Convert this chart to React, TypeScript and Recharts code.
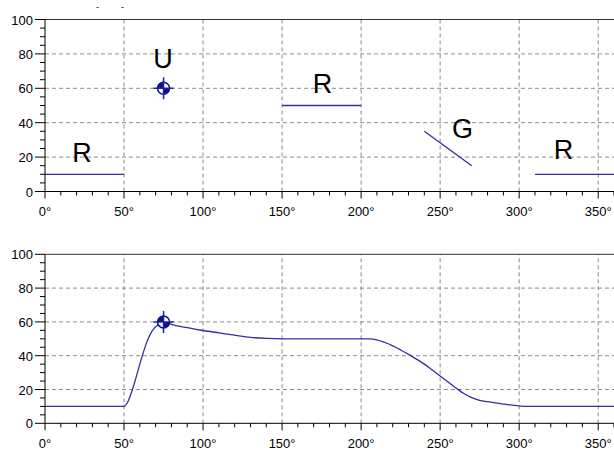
import React from "react";
import { ComposedChart, Line, Scatter, XAxis, YAxis, ReferenceLine } from "recharts";

// axis ticks
const xTicks = [0, 10, 20, 30, 40, 50, 60, 70, 80, 90, 100, 110, 120, 130, 140, 150, 160, 170, 180, 190, 200, 210, 220, 230, 240, 250, 260, 270, 280, 290, 300, 310, 320, 330, 340, 350, 360];
const xMajor = [0, 50, 100, 150, 200, 250, 300, 350];
const yTicks = [0, 5, 10, 15, 20, 25, 30, 35, 40, 45, 50, 55, 60, 65, 70, 75, 80, 85, 90, 95, 100];
const yMajor = [0, 20, 40, 60, 80, 100];
const gridX = [50, 100, 150, 200, 250, 300, 350];
const gridY = [20, 40, 60, 80];

// top chart: constraint segments
const segR1 = [{ x: 0, y: 10 }, { x: 50, y: 10 }];
const segR2 = [{ x: 150, y: 50 }, { x: 200, y: 50 }];
const segG = [{ x: 240, y: 35 }, { x: 270, y: 15 }];
const segR3 = [{ x: 310, y: 10 }, { x: 360, y: 10 }];
const topPoints = [{ x: 75, y: 60 }];
const topLabels = [
  { x: 23.4, y: 17, text: "R" },
  { x: 74.7, y: 71.6, text: "U" },
  { x: 175.6, y: 57, text: "R" },
  { x: 264.2, y: 31, text: "G" },
  { x: 328, y: 18.7, text: "R" },
];

// bottom chart: resulting curve
const curveX = [0, 50, 52, 56, 60, 64, 68, 72, 75, 81, 90, 98, 110, 119, 130, 140, 150, 205, 210, 215, 220, 225, 230, 235, 240, 245, 250, 255, 260, 265, 270, 275, 280, 290, 300, 305, 360];
const curveY = [10, 10, 12, 22, 35, 47, 55, 58.5, 60, 58.2, 56.6, 55.2, 53.5, 52.3, 50.8, 50.2, 50, 50, 49.4, 47.8, 45.8, 43.4, 40.8, 38, 35, 31.5, 28, 24.4, 20.9, 17.6, 15.2, 13.6, 12.8, 11.4, 10.3, 10, 10];
const bottomPoints = [{ x: 75, y: 60 }];

const curve = curveX.map((x, i) => ({ x, y: curveY[i] }));

const LINE = "#3030a4";
const FONT = "'Liberation Sans', Arial, sans-serif";

const XTick = (props: any) => {
  const { x, y, payload } = props;
  const major = xMajor.includes(payload.value);
  return (
    <g>
      <line x1={x} y1={y} x2={x} y2={y + (major ? 7 : 4)} stroke="#000" />
      {major && (
        <text x={x} y={y + 24.5} textAnchor="middle" fontSize={13} fontFamily={FONT} fill="#000">
          {payload.value}°
        </text>
      )}
    </g>
  );
};

const YTick = (props: any) => {
  const { x, y, payload } = props;
  const major = yMajor.includes(payload.value);
  return (
    <g>
      <line x1={x - (major ? 10 : 5)} y1={y} x2={x} y2={y} stroke="#000" />
      {major && (
        <text x={x - 12} y={y + 5} textAnchor="end" fontSize={13} fontFamily={FONT} fill="#000">
          {payload.value}
        </text>
      )}
    </g>
  );
};

const Marker = (props: any) => {
  const { cx, cy } = props;
  const r = 6;
  return (
    <g>
      <circle cx={cx} cy={cy} r={r} fill="#fff" stroke="#10108a" strokeWidth={1.5} />
      <path d={`M${cx},${cy} L${cx - r},${cy} A${r},${r} 0 0 1 ${cx},${cy - r} Z`} fill="#10108a" />
      <path d={`M${cx},${cy} L${cx + r},${cy} A${r},${r} 0 0 1 ${cx},${cy + r} Z`} fill="#10108a" />
      <line x1={cx - 10} y1={cy} x2={cx + 10} y2={cy} stroke="#2020a0" strokeWidth={1.5} />
      <line x1={cx} y1={cy - 11} x2={cx} y2={cy + 11} stroke="#2020a0" strokeWidth={1.5} />
    </g>
  );
};

const LabelShape = (props: any) => {
  const { cx, cy, payload } = props;
  return (
    <text x={cx} y={cy} textAnchor="middle" fontSize={27} fontFamily={FONT} fill="#000">
      {payload.text}
    </text>
  );
};

function Axes({ xHeight }: { xHeight: number }) {
  return null;
}

function Frame(children: React.ReactNode, margin: any, xHeight: number) {
  return (
    <ComposedChart width={614} height={225} margin={margin}>
      <XAxis
        type="number"
        dataKey="x"
        domain={[0, 360]}
        ticks={xTicks}
        interval={0}
        allowDataOverflow
        height={xHeight}
        tickSize={0}
        tickMargin={0}
        tickLine={false}
        tick={<XTick />}
        stroke="#000"
      />
      <YAxis
        type="number"
        dataKey="y"
        domain={[0, 100]}
        ticks={yTicks}
        interval={0}
        allowDataOverflow
        width={45}
        tickSize={0}
        tickMargin={0}
        tickLine={false}
        tick={<YTick />}
        stroke="#000"
      />
      {gridX.map((v) => (
        <ReferenceLine key={"gx" + v} x={v} stroke="#8a8a8a" strokeDasharray="4 3" />
      ))}
      {gridY.map((v) => (
        <ReferenceLine key={"gy" + v} y={v} stroke="#8a8a8a" strokeDasharray="4 3" />
      ))}
      <ReferenceLine y={100} stroke="#333" />
      {children}
    </ComposedChart>
  );
}

export default function App() {
  const segs = [segR1, segR2, segG, segR3];
  return (
    <div style={{ position: "absolute", left: 0, top: 0, width: 614, height: 450, background: "#fff" }}>
      <span style={{ position: "absolute", left: 96, top: 3, fontSize: 9, fontFamily: FONT, lineHeight: "9px" }}>-</span>
      <span style={{ position: "absolute", left: 121, top: 3, fontSize: 9, fontFamily: FONT, lineHeight: "9px" }}>-</span>
      <div style={{ position: "absolute", left: 0, top: 0 }}>
        {Frame(
          [
            ...segs.map((d, i) => (
              <Line key={"s" + i} data={d} dataKey="y" type="linear" stroke={LINE} strokeWidth={1.3} dot={false} isAnimationActive={false} />
            )),
            <Scatter key="pt" data={topPoints} dataKey="y" shape={<Marker />} isAnimationActive={false} />,
            <Scatter key="lb" data={topLabels} dataKey="y" shape={<LabelShape />} isAnimationActive={false} />,
          ],
          { top: 19.5, right: 0, bottom: 3.5, left: 0 },
          30
        )}
      </div>
      <div style={{ position: "absolute", left: 0, top: 225 }}>
        {Frame(
          [
            <Line key="c" data={curve} dataKey="y" type="monotone" stroke={LINE} strokeWidth={1.3} dot={false} isAnimationActive={false} />,
            <Scatter key="pt" data={bottomPoints} dataKey="y" shape={<Marker />} isAnimationActive={false} />,
          ],
          { top: 29.3, right: 0, bottom: 2.7, left: 0 },
          24
        )}
      </div>
    </div>
  );
}
